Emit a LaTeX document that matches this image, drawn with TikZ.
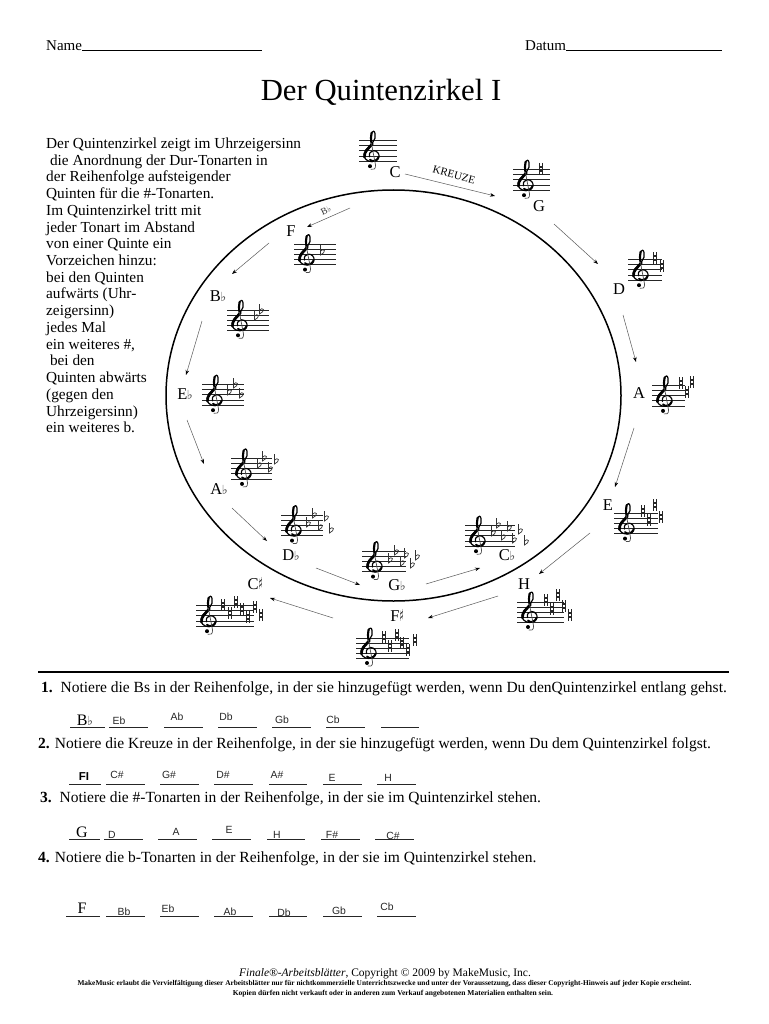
\documentclass[tikz,border=0pt]{standalone}
\usepackage{fontspec}
\usepackage{graphicx}
\setmainfont{Liberation Serif}
\setsansfont{Liberation Sans}
\newfontfamily\djv{DejaVu Sans}
\usetikzlibrary{arrows.meta}
\newcommand{\fsz}[1]{\fontsize{#1}{#1}\selectfont}
\newcommand{\lfl}{{\djv\fsz{12.5}\color{black!75}\hspace{-0.5pt}♭}}
\newcommand{\lsh}{\scalebox{0.55}[1.1]{{\djv\fsz{15}\bfseries ♯}}}
% treble clef, origin on the G line
\newcommand{\mclef}[2]{%
  \begin{scope}[shift={(#1,#2)},line cap=round,line join=round]
    \draw[line width=1.2pt,black]
      (-2.5,0.5) .. controls (-3.5,-3) and (-1,-5.5) .. (1.5,-5.5)
      .. controls (5,-5.5) and (7.5,-2.5) .. (7,0.5)
      .. controls (6.5,4) and (3,5.5) .. (0,5.5)
      .. controls (-5,5.5) and (-8.5,2) .. (-8,-2)
      .. controls (-7.5,-8) and (1,-11) .. (3,-18)
      .. controls (3.5,-21) and (3,-25) .. (1.5,-25)
      .. controls (-1,-25) and (-1.5,-18) .. (-0.5,-13);
    \draw[line width=2.6pt,black] (-7.6,1) .. controls (-8,-5) and (-3,-8) .. (0.5,-12.5);
    \draw[line width=2.1pt,black] (-0.4,-23.5) .. controls (-1.2,-20) and (-1.2,-17) .. (-0.5,-13);
    \draw[line width=1.9pt,black] (-2,3.5) .. controls (0,6) and (5,5) .. (6.5,1);
    \draw[line width=0.7pt,black!70] (-0.5,-13) .. controls (0.5,-6) and (3,5) .. (3.5,9)
      .. controls (4,13) and (1,14) .. (-1,13);
    \fill[black] (-2,10) circle (2);
  \end{scope}}
% staff: left, top line, width, line gap
\newcommand{\mstaff}[4]{%
  \foreach \i in {0,...,4}
    \draw[line width=0.9pt,black!85] (#1,{#2+\i*#4}) -- ({#1+#3},{#2+\i*#4});
  \mclef{#1+13}{#2+3*#4}}
\newcommand{\msharps}[1]{%
  \foreach \px/\py in {#1}{
    \draw[line width=0.9pt,black!85] (\px-1.1,\py-6) -- (\px-1.1,\py+6) (\px+1.1,\py-6) -- (\px+1.1,\py+6);
    \draw[line width=1.6pt,black!85] (\px-1.6,\py-2.2) -- (\px+1.6,\py-2.2) (\px-1.6,\py+2.2) -- (\px+1.6,\py+2.2);
  }}
\newcommand{\mflats}[1]{%
  \foreach \px/\py in {#1}{
    \draw[line width=0.7pt,black!80] (\px-1.5,\py-7) -- (\px-1.5,\py+3)
      .. controls (\px+1,\py+1.5) and (\px+3,\py) .. (\px+2.4,\py-1.5)
      .. controls (\px+1.8,\py-2.8) and (\px,\py-2.5) .. (\px-1.5,\py-0.8);
  }}
\tikzset{
  keylabel/.style={font=\fsz{16.5},inner sep=0pt,text=black},
  bodyline/.style={font=\fsz{15.3},anchor=base west,inner sep=0pt},
  question/.style={font=\fsz{15.5},anchor=base west,inner sep=0pt},
  answer/.style={font=\sffamily\fsz{10.4},inner sep=0pt,text=black!85},
  hand/.style={font=\fsz{16},inner sep=0pt},
  ansline/.style={line width=0.9pt,black!85},
  flow/.style={line width=0.5pt,black!65,-{Stealth[length=5pt,width=3.6pt,black]}},
}
\begin{document}
\begin{tikzpicture}[x=1pt,y=-1pt]
\useasboundingbox (0,0) rectangle (768,1024);
\fill[white] (0,0) rectangle (768,1024);

\node[font=\fsz{15},anchor=base west,inner sep=0pt] (name) at (46,51) {Name\rule{180pt}{0.6pt}};
\node[font=\fsz{15},anchor=base west,inner sep=0pt] (datum) at (525,51) {Datum\rule{156pt}{0.6pt}};
\node[font=\fsz{30.7},inner sep=0pt] (title) at (381,92) {Der Quintenzirkel I};

% left text block
\foreach \t [count=\n from 0] in {
  Der Quintenzirkel zeigt im Uhrzeigersinn,
  {\ die Anordnung der Dur-Tonarten in},
  der Reihenfolge aufsteigender,
  Quinten für die \#-Tonarten.,
  Im Quintenzirkel tritt mit,
  jeder Tonart im Abstand,
  von einer Quinte ein,
  Vorzeichen hinzu:,
  bei den Quinten,
  aufwärts (Uhr-,
  zeigersinn),
  jedes Mal,
  {ein weiteres \#,},
  {\ bei den},
  Quinten abwärts,
  {(gegen den},
  Uhrzeigersinn),
  ein weiteres b.}
  \node[bodyline] (t\n) at (46,{148.5+\n*16.72}) {\t};

% the big circle
\draw[line width=1.5pt,black] (393.5,395.5) ellipse [x radius=227.5,y radius=205.5];

% staves
\mstaff{359}{140}{38}{5.4}
\mstaff{513}{169}{37}{5.4}
\msharps{541/169}
\mstaff{628}{259}{34}{5.4}
\msharps{655/258,662/266}
\mstaff{652}{385}{33}{5.3}
\msharps{681/383,687/392,692/382}
\mstaff{614}{513}{44}{5.2}
\msharps{643/511,649/520,655/505,661/517}
\mstaff{517}{602}{47}{5}
\msharps{546/600,552/609,558/595,564/606,570/615}
\mstaff{356}{638}{53}{5}
\msharps{384/637,390/646,397/635,402/643,408/650,415/640}
\mstaff{196}{605}{58}{5.4}
\msharps{223/605,230/613,236/602,242/609,248/617,255/607,261/615}
\mstaff{294}{244}{42}{5.2}
\mflats{322/252}
\mstaff{227}{310}{42}{5.1}
\mflats{256/317,261/311}
\mstaff{202}{384}{42}{5.4}
\mflats{229/392,235/385,241/395}
\mstaff{231}{458}{41}{5.3}
\mflats{259/465,264/458,270/469,276/461}
\mstaff{281}{515}{42}{5.2}
\mflats{308/524,314/515,320/527,326/518,331/530}
\mstaff{362}{551}{44}{5.2}
\mflats{390/560,396/552,402/563,406/555,412/565,417/557}
\mstaff{465}{525}{50}{5.4}
\mflats{493/533,498/525,503/537,509/528,514/540,520/531,526/542}

% key labels
\node[keylabel] (kC) at (395,172) {C};
\node[keylabel] (kG) at (539,206) {G};
\node[keylabel] (kD) at (619,289) {D};
\node[keylabel] (kA) at (639,393) {A};
\node[keylabel] (kE) at (608,505) {E};
\node[keylabel] (kH) at (524,584) {H};
\node[keylabel] (kFis) at (397,615) {F\lsh};
\node[keylabel] (kCis) at (255,584) {C\lsh};
\node[keylabel] (kGes) at (397,585) {G\lfl};
\node[keylabel] (kCes) at (507,555) {C\lfl};
\node[keylabel] (kDes) at (291,555) {D\lfl};
\node[keylabel] (kAs) at (219,489) {A\lfl};
\node[keylabel] (kEs) at (185,394) {E\lfl};
\node[keylabel] (kB) at (218,296) {B\lfl};
\node[keylabel] (kF) at (291,231) {F};

\node[font=\fsz{11},rotate=-15,inner sep=0pt] (kreuze) at (454,175) {KREUZE};
\node[font=\fsz{9.5},rotate=25,inner sep=0pt,text=black!80] (blabel) at (326,210.5) {B{\djv\fsz{8}\color{black!75}♭}};

% arrows
\foreach \n/\ax/\ay/\bx/\by in {
  a/405/174/495/196, b/554/224/598/264, c/623/315/636/362, d/634/428/615/487,
  e/590/533/539/574, f/498/596/428/618, g/333/618/270/598,
  h/350/208/307/227, i/269/243/232/274, j/202/321/186/375, k/187/420/204/464,
  l/232/508/267/541, m/316/568/360/585, n/426/584/480/568}{
  \coordinate (s\n) at (\ax,\ay);
  \coordinate (e\n) at (\bx,\by);
  \draw[flow] (s\n) -- (e\n);
}

% rule
\draw[line width=2pt,black] (38,672) -- (729,672);

% questions
\node[question] (q1) at (41,692.5) {\textbf{1.}\ \ Notiere die Bs in der Reihenfolge, in der sie hinzugefügt werden, wenn Du denQuintenzirkel entlang gehst.};
\node[question] (q2) at (38,748) {\textbf{2.} Notiere die Kreuze in der Reihenfolge, in der sie hinzugefügt werden, wenn Du dem Quintenzirkel folgst.};
\node[question] (q3) at (40,802.5) {\textbf{3.}\ \ Notiere die \#-Tonarten in der Reihenfolge, in der sie im Quintenzirkel stehen.};
\node[question] (q4) at (38,862) {\textbf{4.} Notiere die b-Tonarten in der Reihenfolge, in der sie im Quintenzirkel stehen.};

% answer lines
\foreach \ya/\segs in {727/{70/105,109/148,164/203,218/257,272/311,326/365,381/419},
  784/{69/101,106/145,160/199,214/253,269/307,323/362,377/416},
  839/{69/100,104/143,158/197,212/251,267/305,321/360,375/414},
  916/{66/100,106/145,160/199,214/253,269/307,323/362,377/416}}{
  \foreach \u/\v in \segs { \draw[ansline] (\u,\ya) -- (\v,\ya); }
}

\node[hand] (a1) at (85,720) {B\lfl};
\node[answer] (a2) at (119,721) {Eb};
\node[answer] (a3) at (177,717) {Ab};
\node[answer] (a4) at (226,717) {Db};
\node[answer] (a5) at (282,720) {Gb};
\node[answer] (a6) at (333,720) {Cb};

\node[font=\sffamily\bfseries\fsz{11.5},inner sep=0pt] (b1) at (84,777) {FI};
\node[answer] (b2) at (117,775) {C\#};
\node[answer] (b3) at (169,775) {G\#};
\node[answer] (b4) at (223,775) {D\#};
\node[answer] (b5) at (277,775) {A\#};
\node[answer] (b6) at (332,778) {E};
\node[answer] (b7) at (388,778) {H};

\node[hand] (c1) at (82,832) {G};
\node[answer] (c2) at (112,835) {D};
\node[answer] (c3) at (176,832) {A};
\node[answer] (c4) at (229,830) {E};
\node[answer] (c5) at (277,835) {H};
\node[answer] (c6) at (332,835) {F\#};
\node[answer] (c7) at (393,836) {C\#};

\node[hand] (d1) at (82,908) {F};
\node[answer] (d2) at (124,912) {Bb};
\node[answer] (d3) at (168,909) {Eb};
\node[answer] (d4) at (230,912) {Ab};
\node[answer] (d5) at (284,913) {Db};
\node[answer] (d6) at (339,911) {Gb};
\node[answer] (d7) at (387,907) {Cb};

% footer
\node[font=\fsz{11.5},inner sep=0pt] (f1) at (385,974) {\textit{Finale®-Arbeitsblätter}, Copyright © 2009 by MakeMusic, Inc.};
\node[font=\bfseries\fsz{7.35},inner sep=0pt] (f2) at (384.5,984) {MakeMusic erlaubt die Vervielfältigung dieser Arbeitsblätter nur für nichtkommerzielle Unterrichtszwecke und unter der Voraussetzung, dass dieser Copyright-Hinweis auf jeder Kopie erscheint.};
\node[font=\bfseries\fsz{7.5},inner sep=0pt] (f3) at (393,994) {Kopien dürfen nicht verkauft oder in anderen zum Verkauf angebotenen Materialien enthalten sein.};
\end{tikzpicture}
\end{document}
